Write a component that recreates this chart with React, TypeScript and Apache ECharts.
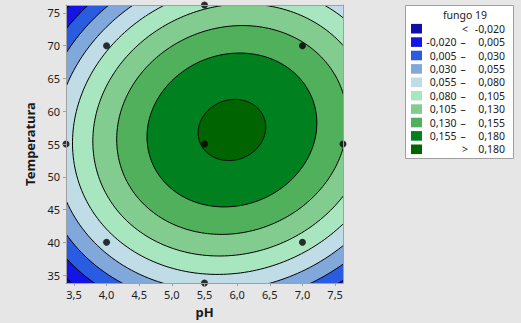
import React, { useEffect, useRef } from "react";
import * as echarts from "echarts";

// Axis ranges (central composite design, alpha = 1.414)
const phRange = [3.379, 7.621];
const tempRange = [33.79, 76.21];

// Design points
const designPH = [4, 4, 7, 7, 5.5, 3.379, 7.621, 5.5, 5.5];
const designTemp = [40, 70, 40, 70, 55, 55, 55, 33.79, 76.21];

// Contour levels and band colours (lowest band first)
const levels = [-0.02, 0.005, 0.03, 0.055, 0.08, 0.105, 0.13, 0.155, 0.18];
const bandColors = [
  "#0e0ea8",
  "#1414e4",
  "#2a5ce2",
  "#80a8da",
  "#c0dce6",
  "#a8e6c0",
  "#82cc90",
  "#50b05c",
  "#00801e",
  "#006400",
];

// Fitted quadratic surface:
// f = peakValue - qPH*dpH^2 - qT*dT^2 + qPHT*dpH*dT
const peakLocation = [5.92, 57.14];
const peakValue = 0.1847;
const qPH = 0.01771;
const qT = 0.0002173;
const qPHT = 0.0003554;

const legendTitle = "fungo 19";
const FONT = "'Noto Sans', 'DejaVu Sans', sans-serif";

const fmt = (v: number) => v.toFixed(3).replace(".", ",");

function ellipsePoints(level: number, api: any) {
  const k = peakValue - level;
  const sa = Math.sqrt(qPH);
  const sb = Math.sqrt(qT);
  const rho = qPHT / (sa * sb);
  const pts: number[][] = [];
  const n = 240;
  for (let i = 0; i < n; i++) {
    const th = (i / n) * Math.PI * 2;
    const c = Math.cos(th);
    const s = Math.sin(th);
    const r = Math.sqrt(k / (1 - rho * c * s));
    const dpH = (r * c) / sa;
    const dT = (r * s) / sb;
    pts.push(api.coord([peakLocation[0] + dpH, peakLocation[1] + dT]));
  }
  return pts;
}

export default function App() {
  const ref = useRef<HTMLDivElement>(null);
  useEffect(() => {
    if (!ref.current) return;
    const chart = echarts.init(ref.current, null, { renderer: "svg" });

    const legendChildren: any[] = [];
    legendChildren.push({
      type: "rect",
      shape: { x: 405.5, y: 5.5, width: 108, height: 153 },
      style: { fill: "#ffffff", stroke: "#a0a0a0", lineWidth: 1 },
    });
    legendChildren.push({
      type: "text",
      x: 465,
      y: 15,
      style: {
        text: legendTitle,
        fill: "#1a1a1a",
        font: `10.5px ${FONT}`,
        align: "center",
        verticalAlign: "middle",
      },
    });
    bandColors.forEach((col, i) => {
      const yc = 28.7 + i * 13.4;
      legendChildren.push({
        type: "rect",
        shape: { x: 411, y: yc - 4.8, width: 11, height: 9.6 },
        style: { fill: col },
      });
      const txt = (t: string, x: number, align: string) => ({
        type: "text",
        x,
        y: yc,
        style: {
          text: t,
          fill: "#1a1a1a",
          font: `10.5px ${FONT}`,
          align,
          verticalAlign: "middle",
        },
      });
      if (i === 0) {
        legendChildren.push(txt("<", 465, "center"));
        legendChildren.push(txt(fmt(levels[0]), 505, "right"));
      } else if (i === bandColors.length - 1) {
        legendChildren.push(txt(">", 465, "center"));
        legendChildren.push(txt(fmt(levels[levels.length - 1]), 505, "right"));
      } else {
        legendChildren.push(txt(fmt(levels[i - 1]), 456.5, "right"));
        legendChildren.push(txt("–", 463, "center"));
        legendChildren.push(txt(fmt(levels[i]), 505, "right"));
      }
    });

    const axisLineStyle = { color: "#a0a0a0", width: 1 };
    const labelStyle = { fontSize: 11, color: "#1a1a1a", fontFamily: FONT };

    chart.setOption({
      animation: false,
      backgroundColor: "#e6e6e6",
      grid: { left: 66, top: 5, right: 178, bottom: 40 },
      xAxis: [
        {
          type: "value",
          min: phRange[0],
          max: phRange[1],
          splitNumber: 8,
          name: "pH",
          nameLocation: "middle",
          nameGap: 22,
          nameTextStyle: { fontSize: 13, fontWeight: "bold", color: "#1a1a1a", fontFamily: FONT },
          axisLine: { show: true, lineStyle: axisLineStyle },
          axisTick: { show: true, length: 3, lineStyle: axisLineStyle },
          axisLabel: {
            ...labelStyle,
            margin: 6,
            showMinLabel: false,
            showMaxLabel: false,
            formatter: (v: number) => v.toFixed(1).replace(".", ","),
          },
          splitLine: { show: false },
          z: 10,
        },
        {
          type: "value",
          position: "top",
          min: phRange[0],
          max: phRange[1],
          axisLine: { show: true, lineStyle: axisLineStyle },
          axisTick: { show: false },
          axisLabel: { show: false },
          splitLine: { show: false },
          z: 10,
        },
      ],
      yAxis: [
        {
          type: "value",
          min: tempRange[0],
          max: tempRange[1],
          splitNumber: 8,
          name: "Temperatura",
          nameLocation: "middle",
          nameGap: 26,
          nameTextStyle: { fontSize: 13, fontWeight: "bold", color: "#1a1a1a", fontFamily: FONT },
          axisLine: { show: true, lineStyle: axisLineStyle },
          axisTick: { show: true, length: 3, lineStyle: axisLineStyle },
          axisLabel: {
            ...labelStyle,
            margin: 6,
            showMinLabel: false,
            showMaxLabel: false,
            formatter: (v: number) => String(Math.round(v)),
          },
          splitLine: { show: false },
          z: 10,
        },
        {
          type: "value",
          position: "right",
          min: tempRange[0],
          max: tempRange[1],
          axisLine: { show: true, lineStyle: axisLineStyle },
          axisTick: { show: false },
          axisLabel: { show: false },
          splitLine: { show: false },
          z: 10,
        },
      ],
      series: [
        {
          type: "custom",
          coordinateSystem: "cartesian2d",
          xAxisIndex: 0,
          yAxisIndex: 0,
          clip: true,
          silent: true,
          data: bandColors.map((_, i) => [phRange[0], tempRange[0], i]),
          encode: { x: 0, y: 1 },
          renderItem: (params: any, api: any) => {
            const idx = api.value(2);
            if (idx === 0) {
              const p1 = api.coord([phRange[0], tempRange[1]]);
              const p2 = api.coord([phRange[1], tempRange[0]]);
              return {
                type: "rect",
                shape: { x: p1[0], y: p1[1], width: p2[0] - p1[0], height: p2[1] - p1[1] },
                style: { fill: bandColors[0] },
              };
            }
            return {
              type: "polygon",
              shape: { points: ellipsePoints(levels[idx - 1], api) },
              style: { fill: bandColors[idx], stroke: "#000000", lineWidth: 1 },
            };
          },
        },
        {
          type: "scatter",
          xAxisIndex: 0,
          yAxisIndex: 0,
          clip: false,
          symbol: "circle",
          symbolSize: 7,
          itemStyle: { color: "#000000" },
          data: designPH.map((p, i) => [p, designTemp[i]]),
          z: 5,
        },
      ],
      graphic: [{ type: "group", children: legendChildren }],
    });
    return () => chart.dispose();
  }, []);
  return (
    <div
      ref={ref}
      style={{ position: "fixed", left: 0, top: 0, width: 521, height: 323 }}
    />
  );
}
